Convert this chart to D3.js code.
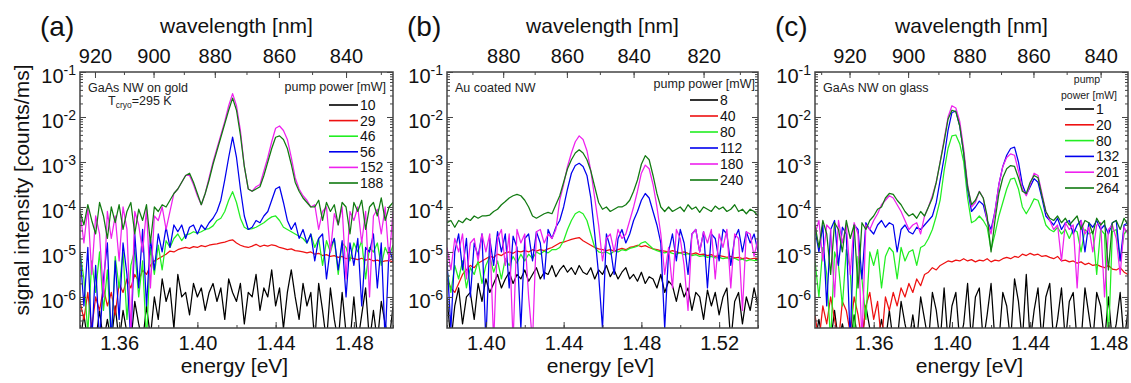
<!DOCTYPE html>
<html>
<head>
<meta charset="utf-8">
<script src="https://cdn.jsdelivr.net/npm/d3@7"></script>
<style>
  body { margin: 0; background: #fff; }
  svg { font-family: "Liberation Sans", Arial, sans-serif; }
</style>
</head>
<body>
<svg id="chart" width="1131" height="383"></svg>
<script>
// spectra sampled every 2 meV, values are log10(counts/ms); -7 means below the axis
const energyStep = 0.002;
const energyStartA = 1.34, energyStartB = 1.38, energyStartC = 1.33;

const powersA = ["10", "29", "46", "56", "152", "188"];
const powersB = ["8", "40", "80", "112", "180", "240"];
const powersC = ["1", "20", "80", "132", "201", "264"];
const colors = ["#000000", "#ee1111", "#22ee22", "#0000ee", "#ee22ee", "#117a11"];

const energyTicksA = [1.36, 1.40, 1.44, 1.48];
const energyTicksB = [1.40, 1.44, 1.48, 1.52];
const energyTicksC = [1.36, 1.40, 1.44, 1.48];
const wavelengthTicksA = [920, 900, 880, 860, 840];
const wavelengthTicksB = [880, 860, 840, 820];
const wavelengthTicksC = [920, 900, 880, 860, 840];

// (a) GaAs NW on gold
const a10 = [-7,-6.4,-7,-6.6,-7,-6.3,-7,-6.5,-7,-6.2,
  -7,-6.3,-6.8,-7,-6.1,-6.6,-7,-6.2,-6.9,-6.0,
  -6.5,-5.6,-6.1,-5.8,-6.7,-5.5,-6.0,-5.9,-6.4,-5.7,
  -6.0,-5.8,-6.3,-5.9,-5.7,-6.1,-5.8,-6.5,-5.6,-5.9,
  -6.1,-5.7,-6.6,-5.9,-6.0,-5.5,-6.3,-5.8,-6.0,-5.4,
  -6.2,-5.8,-6.7,-5.9,-5.4,-6.0,-6.5,-5.7,-6.2,-5.9,
  -7,-5.7,-6.3,-7,-5.8,-6.5,-7,-5.9,-6.8,-7,
  -6.0,-7,-6.4,-5.8,-7,-6.3,-7,-6.1,-6.6,-7,-6.2];
const a29 = [-6.1,-6.5,-5.9,-6.7,-6.0,-6.3,-5.8,-6.2,-5.9,-6.4,
  -5.7,-5.9,-5.6,-5.8,-5.5,-5.65,-5.4,-5.5,-5.3,-5.2,
  -5.15,-5.1,-5.05,-4.98,-5.0,-4.95,-4.92,-4.9,-4.92,-4.88,
  -4.9,-4.86,-4.88,-4.85,-4.83,-4.82,-4.8,-4.78,-4.75,-4.73,
  -4.8,-4.85,-4.88,-4.9,-4.87,-4.83,-4.88,-4.85,-4.87,-4.84,
  -4.86,-4.9,-4.92,-4.95,-4.93,-4.97,-4.98,-5.0,-5.02,-5.0,
  -5.05,-5.03,-5.08,-5.06,-5.1,-5.08,-5.12,-5.1,-5.15,-5.13,
  -5.15,-5.17,-5.14,-5.18,-5.16,-5.2,-5.18,-5.22,-5.2,-5.19,-5.22];
const a46 = [-5.0,-5.6,-6.8,-5.2,-5.9,-5.0,-6.3,-5.4,-7,-5.1,
  -5.8,-5.0,-6.5,-5.3,-4.95,-6.0,-5.2,-7,-4.9,-5.5,
  -4.85,-5.4,-4.75,-4.9,-4.7,-4.6,-4.75,-4.62,-4.6,-4.55,
  -4.58,-4.55,-4.5,-4.48,-4.42,-4.3,-4.25,-4.1,-3.85,-3.66,
  -3.9,-4.25,-4.45,-4.5,-4.48,-4.45,-4.4,-4.35,-4.28,-4.22,
  -4.2,-4.3,-4.45,-4.5,-4.55,-4.6,-4.65,-4.7,-4.8,-4.6,
  -4.9,-4.7,-5.3,-4.75,-5.0,-4.7,-5.5,-4.8,-4.9,-5.2,
  -4.8,-5.0,-4.75,-5.6,-4.9,-5.0,-4.8,-5.3,-4.9,-5.1,-4.85];
const a56 = [-5.0,-6.2,-4.9,-7,-5.3,-7,-5.6,-4.8,-7,-5.2,
  -6.5,-4.8,-5.5,-7,-4.6,-5.8,-4.5,-6.2,-4.7,-5.4,
  -4.6,-5.0,-4.45,-4.9,-4.4,-4.55,-4.4,-4.7,-4.45,-4.4,
  -4.6,-4.4,-4.5,-4.35,-4.25,-4.1,-3.85,-3.4,-2.9,-2.45,
  -2.9,-3.6,-4.2,-4.5,-4.45,-4.3,-4.35,-4.2,-4.1,-3.85,
  -3.6,-3.55,-3.9,-4.3,-4.5,-4.35,-4.7,-4.5,-4.8,-4.6,
  -5.2,-4.7,-4.6,-5.6,-4.9,-4.7,-5.4,-4.75,-6.0,-4.8,
  -5.3,-4.7,-6.2,-4.9,-5.0,-4.6,-5.8,-4.8,-7,-4.9,-5.2];
const a152 = [-4.1,-4.8,-4.0,-5.5,-4.2,-4.6,-6.0,-4.1,-4.7,-4.2,
  -5.2,-4.0,-4.5,-6.8,-4.1,-4.4,-5.0,-4.05,-5.8,-4.2,
  -4.3,-4.0,-4.5,-4.1,-3.7,-3.6,-3.45,-3.3,-3.3,-3.5,
  -3.75,-3.95,-3.7,-3.35,-3.0,-2.7,-2.4,-2.1,-1.75,-1.48,
  -1.75,-2.3,-3.1,-3.6,-3.65,-3.55,-3.5,-3.2,-2.9,-2.55,
  -2.25,-2.2,-2.3,-2.5,-2.9,-3.35,-3.6,-3.75,-3.85,-4.0,
  -3.95,-4.5,-4.1,-4.0,-5.0,-4.15,-4.4,-4.0,-5.6,-4.1,
  -4.3,-4.0,-4.8,-4.1,-6.0,-4.2,-4.05,-4.6,-4.0,-5.2,-4.1];
const a188 = [-4.1,-4.4,-3.95,-4.3,-4.6,-3.9,-4.2,-4.7,-4.0,-4.35,
  -3.95,-4.5,-4.1,-3.9,-4.6,-4.05,-4.3,-3.95,-4.8,-4.0,
  -4.1,-3.95,-4.0,-3.85,-3.7,-3.6,-3.45,-3.3,-3.25,-3.45,
  -3.7,-3.95,-3.7,-3.4,-3.05,-2.75,-2.45,-2.15,-1.85,-1.58,
  -1.85,-2.4,-3.1,-3.6,-3.65,-3.6,-3.55,-3.3,-3.0,-2.7,
  -2.45,-2.42,-2.5,-2.7,-3.05,-3.45,-3.65,-3.8,-3.9,-4.0,
  -4.0,-3.85,-4.3,-3.9,-4.1,-3.95,-4.4,-3.9,-4.0,-4.6,
  -3.9,-4.1,-3.85,-4.5,-4.0,-3.9,-4.2,-3.8,-4.3,-4.0,-3.9];

// (b) Au coated NW
const b8 = [-6.0,-7,-6.2,-5.8,-6.6,-6.0,-5.9,-6.5,-5.7,-6.1,
  -5.6,-5.9,-5.7,-5.5,-5.8,-5.6,-5.45,-5.7,-5.5,-5.6,
  -5.4,-5.65,-5.5,-5.35,-5.6,-5.45,-5.5,-5.3,-5.55,-5.4,
  -5.3,-5.45,-5.35,-5.5,-5.3,-5.45,-5.5,-5.35,-5.6,-5.4,
  -5.5,-5.3,-5.55,-5.4,-5.6,-5.45,-5.35,-5.6,-5.5,-5.65,
  -5.45,-5.7,-5.55,-5.6,-5.8,-5.5,-5.9,-5.65,-5.75,-6.1,
  -5.7,-6.0,-5.8,-6.3,-5.9,-6.0,-6.5,-5.85,-6.2,-5.9,
  -6.4,-6.0,-5.8,-7,-6.1,-5.9,-6.6,-6.0,-6.3,-5.8,-6.2];
const b40 = [-5.6,-5.8,-5.9,-5.7,-5.5,-5.4,-5.3,-5.35,-5.25,-5.2,
  -5.15,-5.1,-5.12,-5.05,-5.08,-5.02,-5.0,-5.03,-4.98,-5.0,
  -4.97,-5.0,-4.95,-4.98,-4.95,-4.97,-4.93,-4.9,-4.85,-4.8,
  -4.78,-4.75,-4.72,-4.7,-4.68,-4.75,-4.8,-4.85,-4.9,-4.93,
  -4.95,-4.97,-4.95,-4.98,-4.95,-4.92,-4.95,-4.9,-4.88,-4.85,
  -4.88,-4.86,-4.9,-4.93,-4.95,-4.97,-4.98,-5.0,-4.97,-5.0,
  -5.02,-5.0,-5.03,-5.05,-5.02,-5.06,-5.05,-5.08,-5.06,-5.1,
  -5.08,-5.1,-5.12,-5.1,-5.13,-5.12,-5.15,-5.13,-5.16,-5.14,-5.15];
const b80 = [-5.4,-5.9,-5.3,-5.6,-5.2,-5.8,-5.35,-5.5,-5.2,-5.7,
  -5.3,-5.1,-5.45,-5.2,-5.6,-5.15,-5.3,-5.1,-5.25,-5.05,
  -5.2,-5.05,-5.15,-5.0,-5.05,-4.98,-5.02,-4.95,-4.95,-4.9,
  -4.75,-4.5,-4.3,-4.15,-4.1,-4.15,-4.3,-4.6,-4.9,-5.0,
  -5.02,-5.0,-5.05,-4.98,-5.0,-4.95,-4.97,-4.92,-4.9,-4.87,
  -4.8,-4.77,-4.85,-4.93,-4.97,-5.0,-5.02,-5.0,-5.03,-5.05,
  -5.02,-5.06,-5.04,-5.08,-5.06,-5.1,-5.08,-5.12,-5.1,-5.13,
  -5.12,-5.15,-5.13,-5.16,-5.14,-5.18,-5.16,-5.2,-5.17,-5.19,-5.18];
const b112 = [-5.2,-6.7,-5.0,-4.6,-5.4,-4.7,-6.0,-4.8,-5.1,-4.6,
  -7,-4.7,-5.3,-4.55,-5.0,-4.6,-5.8,-4.65,-4.9,-6.7,
  -4.7,-4.6,-5.2,-4.55,-4.8,-5.6,-4.5,-4.7,-4.45,-4.3,
  -4.0,-3.6,-3.25,-3.08,-3.03,-3.1,-3.3,-3.8,-4.6,-5.5,
  -6.7,-4.6,-4.9,-5.5,-4.7,-4.5,-4.8,-4.6,-4.3,-4.1,
  -3.85,-3.7,-3.8,-4.1,-4.4,-4.8,-6.7,-5.0,-4.6,-5.2,
  -4.5,-4.8,-5.5,-4.6,-4.5,-5.0,-4.55,-5.8,-4.6,-4.7,
  -5.2,-4.5,-4.6,-5.3,-4.7,-4.5,-5.0,-4.55,-4.8,-4.6,-5.0];
const b180 = [-4.9,-5.4,-4.7,-5.0,-4.6,-5.6,-4.8,-4.7,-5.2,-4.6,
  -5.0,-4.6,-7,-4.7,-4.5,-5.3,-4.6,-7,-4.5,-4.8,
  -4.6,-6.0,-7,-4.55,-4.5,-4.8,-4.6,-4.7,-4.5,-3.85,
  -3.5,-3.1,-2.8,-2.55,-2.42,-2.5,-2.75,-3.2,-3.8,-4.4,
  -5.2,-4.7,-4.6,-5.0,-4.5,-4.7,-4.6,-4.3,-4.0,-3.65,
  -3.25,-3.07,-3.15,-3.5,-4.0,-4.6,-5.5,-4.9,-5.8,-4.5,
  -4.7,-5.3,-6.3,-4.6,-4.5,-5.0,-4.55,-4.8,-4.5,-5.6,
  -4.6,-4.9,-4.5,-5.8,-4.6,-4.7,-6.3,-4.55,-4.6,-5.1,-4.7];
const b240 = [-4.35,-4.3,-4.45,-4.3,-4.35,-4.25,-4.3,-4.2,-4.25,-4.2,
  -4.2,-4.18,-4.1,-4.05,-3.95,-3.88,-3.8,-3.75,-3.72,-3.75,
  -3.85,-4.0,-4.2,-4.25,-4.2,-4.15,-4.12,-4.15,-3.95,-3.75,
  -3.45,-3.15,-2.95,-2.8,-2.73,-2.8,-2.95,-3.2,-3.55,-3.9,
  -4.05,-4.0,-4.1,-4.05,-4.0,-4.0,-3.95,-3.85,-3.65,-3.4,
  -3.05,-2.86,-2.95,-3.3,-3.7,-4.0,-4.1,-4.0,-4.1,-4.05,
  -4.0,-4.1,-3.95,-4.05,-4.0,-4.12,-4.0,-4.05,-4.1,-3.98,
  -4.05,-4.0,-4.1,-4.05,-3.95,-4.1,-4.05,-4.15,-4.05,-4.1,-4.2];

// (c) GaAs NW on glass
const c1 = [-7,-6.5,-7,-7,-7,-6.3,-7,-6.6,-7,-7,
  -6.4,-7,-7,-6.2,-6.7,-7,-7,-6.5,-7,-6.3,
  -7,-7,-6.1,-6.6,-7,-6.4,-7,-6.0,-6.5,-7,
  -5.9,-6.3,-7,-5.8,-7,-6.2,-5.9,-7,-6.6,-5.7,
  -7,-6.0,-5.8,-7,-6.4,-5.7,-7,-7,-5.9,-6.2,
  -7,-5.6,-6.1,-7,-5.5,-7,-6.3,-5.8,-7,-6.0,
  -5.7,-7,-6.5,-5.8,-7,-6.1,-5.9,-7,-7,-5.8,
  -6.4,-7,-5.9,-6.2,-7,-6.0,-7,-6.6,-5.9,-7,-6.3];
const c20 = [-6.4,-7,-6.2,-6.6,-6.0,-6.5,-7,-6.1,-6.3,-6.8,
  -6.0,-6.4,-7,-6.2,-5.9,-6.5,-6.1,-7,-6.0,-6.3,
  -5.9,-6.2,-5.8,-6.0,-5.7,-5.9,-5.6,-5.75,-5.5,-5.45,
  -5.35,-5.4,-5.3,-5.25,-5.2,-5.22,-5.18,-5.2,-5.15,-5.2,
  -5.17,-5.22,-5.18,-5.2,-5.15,-5.22,-5.18,-5.2,-5.15,-5.12,
  -5.15,-5.1,-5.12,-5.05,-5.08,-5.03,-5.07,-5.05,-5.1,-5.08,
  -5.12,-5.15,-5.1,-5.2,-5.18,-5.22,-5.2,-5.25,-5.22,-5.28,
  -5.25,-5.3,-5.28,-5.32,-5.35,-5.3,-5.38,-5.4,-5.35,-5.45,-5.5];
const c80 = [-5.2,-6.0,-4.9,-5.5,-7,-5.0,-5.3,-6.2,-4.95,-5.4,
  -7,-5.1,-5.6,-6.5,-5.0,-5.3,-4.95,-5.8,-5.1,-4.9,
  -5.0,-5.6,-4.9,-5.2,-5.0,-4.95,-5.3,-4.9,-4.85,-4.7,
  -4.5,-4.2,-3.84,-3.2,-2.7,-2.42,-2.4,-2.6,-3.0,-3.8,
  -4.35,-4.3,-4.2,-4.3,-4.45,-4.95,-4.6,-4.2,-3.9,-3.6,
  -3.38,-3.36,-3.6,-4.0,-4.15,-4.0,-3.82,-3.85,-4.1,-4.4,
  -4.5,-4.55,-4.45,-4.6,-4.5,-4.7,-4.5,-4.55,-5.0,-4.5,
  -4.6,-4.55,-5.5,-4.5,-4.6,-7,-4.55,-4.5,-5.2,-4.6,-4.5];
const c132 = [-4.5,-5.0,-4.4,-6.2,-4.5,-4.3,-5.3,-4.45,-4.6,-7,
  -4.4,-4.5,-5.6,-4.35,-4.5,-4.6,-4.4,-4.3,-4.45,-4.35,
  -4.4,-5.0,-4.5,-4.4,-4.55,-4.6,-4.45,-4.5,-4.4,-4.3,
  -4.2,-3.9,-3.4,-2.9,-2.3,-1.9,-1.87,-2.2,-2.8,-3.6,
  -4.1,-4.0,-3.87,-3.95,-4.3,-4.5,-4.1,-3.5,-3.1,-2.85,
  -2.7,-2.67,-3.0,-3.5,-3.73,-3.55,-3.37,-3.45,-3.8,-4.2,
  -4.3,-4.4,-4.25,-4.5,-4.35,-4.3,-4.6,-4.4,-4.3,-5.0,
  -4.35,-4.45,-4.3,-4.5,-4.4,-4.6,-4.35,-4.3,-5.2,-4.4,-4.35];
const c201 = [-4.6,-4.3,-5.2,-4.4,-4.5,-6.0,-4.3,-4.8,-4.4,-5.5,
  -4.35,-4.6,-7,-4.4,-4.5,-4.3,-4.15,-3.95,-3.85,-3.75,
  -3.8,-3.95,-4.1,-4.3,-4.5,-4.4,-4.35,-4.6,-4.2,-4.0,
  -3.75,-3.45,-3.0,-2.5,-2.0,-1.75,-1.8,-2.1,-2.7,-3.5,
  -4.0,-3.9,-3.65,-3.8,-4.3,-4.6,-4.1,-3.5,-3.1,-2.9,
  -2.82,-2.85,-3.2,-3.6,-3.75,-3.5,-3.25,-3.3,-3.7,-4.1,
  -4.3,-4.5,-4.4,-5.2,-4.35,-4.5,-4.4,-5.8,-4.3,-4.6,
  -4.45,-5.0,-4.4,-4.35,-6.0,-4.5,-4.4,-4.7,-5.5,-4.45,-4.6];
const c264 = [-4.4,-4.9,-4.3,-4.6,-5.5,-4.35,-4.5,-5.0,-4.3,-4.7,
  -4.4,-5.8,-4.35,-4.5,-4.3,-4.2,-4.05,-4.0,-3.8,-3.7,
  -3.72,-3.85,-3.95,-4.1,-4.2,-4.15,-4.25,-4.1,-4.2,-4.0,
  -3.8,-3.45,-3.0,-2.55,-2.05,-1.85,-1.88,-2.2,-2.8,-3.55,
  -3.95,-3.85,-3.66,-3.8,-4.2,-5.0,-4.3,-3.7,-3.35,-3.15,
  -3.08,-3.1,-3.35,-3.65,-3.7,-3.45,-3.3,-3.35,-3.75,-4.1,
  -4.25,-4.3,-4.2,-4.35,-4.25,-4.4,-4.3,-4.2,-4.5,-4.3,
  -4.35,-4.6,-4.25,-4.4,-4.3,-5.4,-4.35,-4.3,-4.5,-4.25,-4.4];

const HC = 1239.84; // eV*nm
const yTop = 72, yBottom = 328;
const frameColor = "#444";

const panels = [
  { tag: "(a)", left: 80, right: 393, eMin: 1.34, eMax: 1.50, start: energyStartA,
    series: [a10, a29, a46, a56, a152, a188], powers: powersA,
    eTicks: energyTicksA, wlTicks: wavelengthTicksA,
    notes: "GaAs NW on gold", cryo: true,
    legend: { titleX: 386, titleY: 91, rowY: 105, rowStep: 15.6, lineX0: 329, lineX1: 358 } },
  { tag: "(b)", left: 447, right: 758, eMin: 1.38, eMax: 1.54, start: energyStartB,
    series: [b8, b40, b80, b112, b180, b240], powers: powersB,
    eTicks: energyTicksB, wlTicks: wavelengthTicksB,
    notes: "Au coated NW", cryo: false,
    legend: { titleX: 755, titleY: 88, rowY: 100, rowStep: 16, lineX0: 690, lineX1: 718 } },
  { tag: "(c)", left: 815, right: 1128, eMin: 1.33, eMax: 1.49, start: energyStartC,
    series: [c1, c20, c80, c132, c201, c264], powers: powersC,
    eTicks: energyTicksC, wlTicks: wavelengthTicksC,
    notes: "GaAs NW on glass", cryo: false, split: true,
    legend: { titleX: 1089, titleY: 83, rowY: 109, rowStep: 15.8, lineX0: 1065, lineX1: 1094 } }
];

const svg = d3.select("#chart");
const y = d3.scaleLog().domain([Math.pow(10, -6.69), 0.1]).range([yBottom, yTop]);

// log minor ticks
const yMinor = [];
for (let k = -7; k <= -2; k++) {
  for (let m = 2; m <= 9; m++) {
    const v = m * Math.pow(10, k);
    if (v >= y.domain()[0] && v <= y.domain()[1]) yMinor.push(v);
  }
}
const yMajor = [1e-1, 1e-2, 1e-3, 1e-4, 1e-5, 1e-6];

function styleAxis(g) {
  g.select(".domain").remove();
  g.selectAll("line").attr("stroke", frameColor);
  g.selectAll("text").attr("fill", "#111").attr("font-size", 20);
}

panels.forEach((p, pi) => {
  const x = d3.scaleLinear().domain([p.eMin, p.eMax]).range([p.left, p.right]);
  const g = svg.append("g");

  const clipId = "clip" + pi;
  svg.append("clipPath").attr("id", clipId)
    .append("rect").attr("x", p.left).attr("y", yTop)
    .attr("width", p.right - p.left).attr("height", yBottom - yTop);

  // spectra
  const line = d3.line()
    .x((d, i) => x(p.start + i * energyStep))
    .y(d => y(Math.pow(10, d)));
  const plot = g.append("g").attr("clip-path", `url(#${clipId})`);
  p.series.forEach((s, si) => {
    plot.append("path").datum(s)
      .attr("d", line)
      .attr("fill", "none")
      .attr("stroke", colors[si])
      .attr("stroke-width", 1.25)
      .attr("stroke-linejoin", "round");
  });

  // bottom energy axis (inward ticks)
  const eMinor = d3.range(Math.ceil(p.eMin / 0.02) * 0.02, p.eMax + 1e-9, 0.02);
  g.append("g").attr("transform", `translate(0,${yBottom})`)
    .call(d3.axisBottom(x).tickValues(eMinor).tickSize(-3).tickFormat(""))
    .call(styleAxis);
  g.append("g").attr("transform", `translate(0,${yBottom})`)
    .call(d3.axisBottom(x).tickValues(p.eTicks).tickSize(-6).tickPadding(8)
      .tickFormat(d3.format(".2f")))
    .call(styleAxis);

  // top wavelength axis
  const wlLow = Math.ceil(HC / p.eMax / 10) * 10, wlHigh = Math.floor(HC / p.eMin / 10) * 10;
  const wlMinor = d3.range(wlLow, wlHigh + 1, 10).map(w => HC / w);
  g.append("g").attr("transform", `translate(0,${yTop})`)
    .call(d3.axisTop(x).tickValues(wlMinor).tickSize(-3).tickFormat(""))
    .call(styleAxis);
  g.append("g").attr("transform", `translate(0,${yTop})`)
    .call(d3.axisTop(x).tickValues(p.wlTicks.map(w => HC / w)).tickSize(-6).tickPadding(9)
      .tickFormat((d, i) => p.wlTicks[i]))
    .call(styleAxis);

  // left and right log axes
  [[d3.axisLeft, p.left], [d3.axisRight, p.right]].forEach(([ax, pos]) => {
    g.append("g").attr("transform", `translate(${pos},0)`)
      .call(ax(y).tickValues(yMinor).tickSize(-3).tickFormat(""))
      .call(styleAxis);
    g.append("g").attr("transform", `translate(${pos},0)`)
      .call(ax(y).tickValues(yMajor).tickSize(-6).tickFormat(""))
      .call(styleAxis);
  });

  // y tick labels as 10^n
  yMajor.forEach(v => {
    const t = g.append("text")
      .attr("x", p.left - 4).attr("y", y(v) + 11)
      .attr("text-anchor", "end").attr("font-size", 20).attr("fill", "#111");
    t.append("tspan").text("10");
    t.append("tspan").attr("dy", -8).attr("font-size", 14)
      .text(Math.round(Math.log10(v)));
  });

  // frame
  g.append("rect").attr("x", p.left).attr("y", yTop)
    .attr("width", p.right - p.left).attr("height", yBottom - yTop)
    .attr("fill", "none").attr("stroke", frameColor).attr("stroke-width", 1.5);

  // titles
  const mid = (p.left + p.right) / 2;
  g.append("text").attr("x", mid).attr("y", 33).attr("text-anchor", "middle")
    .attr("font-size", 21).attr("fill", "#111").text("wavelength [nm]");
  g.append("text").attr("x", mid - 2).attr("y", 373).attr("text-anchor", "middle")
    .attr("font-size", 21).attr("fill", "#111").text("energy [eV]");
  g.append("text").attr("x", p.left - 40).attr("y", 36)
    .attr("font-size", 28).attr("fill", "#111").text(p.tag);

  // sample note
  g.append("text").attr("x", p.left + 8).attr("y", 92)
    .attr("font-size", 12.5).attr("fill", "#222").text(p.notes);
  if (p.cryo) {
    const t = g.append("text").attr("x", p.left + 28).attr("y", 105)
      .attr("font-size", 12.5).attr("fill", "#222");
    t.append("tspan").text("T");
    t.append("tspan").attr("dy", 3).attr("font-size", 8.5).text("cryo");
    t.append("tspan").attr("dy", -3).text("=295 K");
  }

  // legend
  const L = p.legend;
  if (p.split) {
    g.append("text").attr("x", L.titleX - 2).attr("y", L.titleY).attr("text-anchor", "middle")
      .attr("font-size", 10.5).attr("fill", "#222").text("pump");
    g.append("text").attr("x", L.titleX).attr("y", L.titleY + 16).attr("text-anchor", "middle")
      .attr("font-size", 10.5).attr("fill", "#222").text("power [mW]");
  } else {
    g.append("text").attr("x", L.titleX).attr("y", L.titleY).attr("text-anchor", "end")
      .attr("font-size", 12.5).attr("fill", "#222").text("pump power [mW]");
  }
  p.powers.forEach((pw, i) => {
    const ry = L.rowY + i * L.rowStep;
    g.append("line").attr("x1", L.lineX0).attr("x2", L.lineX1)
      .attr("y1", ry).attr("y2", ry)
      .attr("stroke", colors[i]).attr("stroke-width", 1.6);
    g.append("text").attr("x", L.lineX1 + 2).attr("y", ry + 5)
      .attr("font-size", 14).attr("fill", "#111").text(pw);
  });
});

// y axis title (left panel only)
svg.append("text")
  .attr("transform", "translate(29,190) rotate(-90)")
  .attr("text-anchor", "middle").attr("font-size", 21).attr("fill", "#111")
  .text("signal intensity [counts/ms]");
</script>
</body>
</html>
